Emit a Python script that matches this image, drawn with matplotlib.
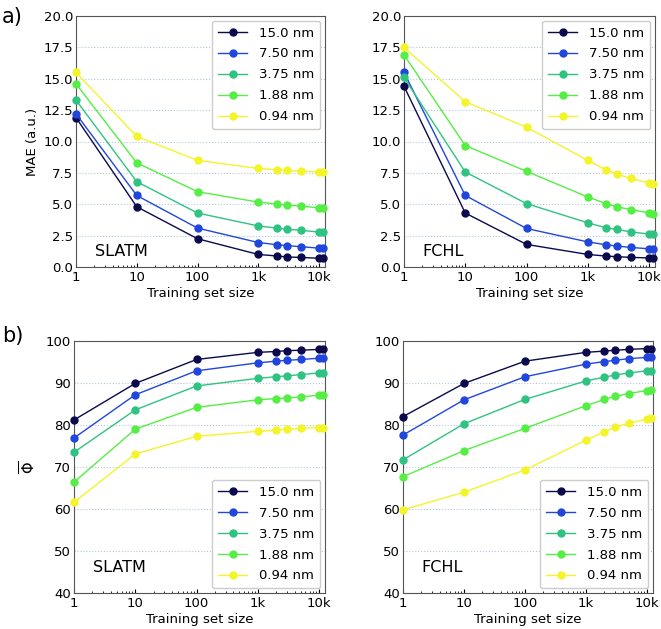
import matplotlib
matplotlib.use("Agg")
import matplotlib.pyplot as plt
import numpy as np

train_sizes = [1, 10, 100, 1000, 2000, 3000, 5000, 10000, 11500]
labels = ["15.0 nm", "7.50 nm", "3.75 nm", "1.88 nm", "0.94 nm"]
colors = ["#0b0a4c", "#2046dc", "#2ec380", "#55ee44", "#f4f42a"]
x_ticks = [1, 10, 100, 1000, 10000]
x_tick_labels = ["1", "10", "100", "1k", "10k"]

# MAE (a.u.), SLATM
mae_slatm = [
    [11.9, 4.8, 2.25, 1.0, 0.88, 0.8, 0.76, 0.7, 0.7],
    [12.2, 5.7, 3.1, 1.95, 1.78, 1.7, 1.62, 1.5, 1.5],
    [13.3, 6.8, 4.3, 3.27, 3.1, 3.0, 2.93, 2.78, 2.78],
    [14.6, 8.3, 6.0, 5.17, 5.02, 4.92, 4.85, 4.72, 4.72],
    [15.5, 10.4, 8.5, 7.85, 7.75, 7.7, 7.63, 7.57, 7.57],
]
# MAE (a.u.), FCHL
mae_fchl = [
    [14.4, 4.3, 1.8, 1.0, 0.87, 0.82, 0.77, 0.72, 0.72],
    [15.5, 5.7, 3.07, 2.0, 1.77, 1.67, 1.56, 1.45, 1.45],
    [15.1, 7.57, 5.05, 3.52, 3.12, 2.99, 2.8, 2.62, 2.6],
    [16.9, 9.68, 7.62, 5.58, 5.05, 4.79, 4.58, 4.31, 4.26],
    [17.5, 13.17, 11.14, 8.49, 7.75, 7.41, 7.06, 6.69, 6.64],
]
# mean Phi, SLATM
phi_slatm = [
    [81.2, 89.9, 95.6, 97.3, 97.5, 97.7, 97.8, 98.0, 98.0],
    [76.9, 87.2, 92.9, 94.8, 95.2, 95.4, 95.6, 95.9, 95.9],
    [73.5, 83.6, 89.3, 91.1, 91.5, 91.7, 92.0, 92.4, 92.4],
    [66.4, 79.0, 84.2, 86.0, 86.3, 86.4, 86.7, 87.1, 87.1],
    [61.6, 73.1, 77.3, 78.5, 78.8, 79.0, 79.2, 79.4, 79.4],
]
# mean Phi, FCHL
phi_fchl = [
    [82.0, 89.9, 95.2, 97.3, 97.6, 97.8, 98.0, 98.2, 98.2],
    [77.6, 86.0, 91.5, 94.5, 95.1, 95.4, 95.8, 96.1, 96.1],
    [71.7, 80.3, 86.1, 90.5, 91.4, 91.9, 92.4, 92.9, 92.9],
    [67.7, 73.9, 79.2, 84.6, 86.1, 86.8, 87.5, 88.2, 88.3],
    [59.8, 64.0, 69.3, 76.4, 78.4, 79.5, 80.4, 81.4, 81.6],
]

plt.rcParams["font.family"] = "DejaVu Sans"
fig = plt.figure(figsize=(6.61, 6.29), dpi=100)

W, H = 661, 629
boxes = {
    "tl": (76, 16, 325, 267),
    "tr": (404, 16, 655, 267),
    "bl": (74, 341, 325, 593),
    "br": (403, 341, 653, 593),
}
FS = 9.5


def make_ax(box):
    l, t, r, b = box
    return fig.add_axes([l / W, 1 - b / H, (r - l) / W, (b - t) / H])


def style(ax, ylim, yticks, fmt, legend_loc, method, text_y):
    ax.set_xscale("log")
    ax.set_xlim(1, 12500)
    ax.set_ylim(*ylim)
    ax.set_xticks(x_ticks)
    ax.set_xticklabels(x_tick_labels)
    ax.set_yticks(yticks)
    ax.set_yticklabels([fmt.format(v) for v in yticks])
    ax.tick_params(axis="x", which="both", direction="in", labelsize=FS, pad=3)
    ax.tick_params(axis="y", length=0, labelsize=FS, pad=2)
    ax.tick_params(axis="x", which="major", length=3)
    ax.tick_params(axis="x", which="minor", length=1.8)
    ax.grid(axis="y", linestyle=":", color="#b4c8dc", linewidth=0.8)
    ax.set_axisbelow(True)
    for s in ax.spines.values():
        s.set_color("#555555")
    ax.set_xlabel("Training set size", fontsize=FS, labelpad=2)
    ax.legend(loc=legend_loc, fontsize=FS, handlelength=2.2, borderpad=0.45,
              labelspacing=0.6, handletextpad=0.9, edgecolor="#cccccc",
              framealpha=1, borderaxespad=0.35)
    ax.text(0.075, text_y, method, transform=ax.transAxes, fontsize=11.5,
            ha="left", va="baseline")


panels = [
    ("tl", mae_slatm, "SLATM"),
    ("tr", mae_fchl, "FCHL"),
    ("bl", phi_slatm, "SLATM"),
    ("br", phi_fchl, "FCHL"),
]
axes = {}
for key, data, method in panels:
    ax = make_ax(boxes[key])
    for vals, lab, c in zip(data, labels, colors):
        ax.plot(train_sizes, vals, "-o", color=c, label=lab, lw=1.0, ms=5,
                clip_on=False, zorder=3)
    if key.startswith("t"):
        style(ax, (0, 20), np.arange(0, 20.1, 2.5), "{:.1f}", "upper right",
              method, 0.045)
    else:
        style(ax, (40, 100), np.arange(40, 101, 10), "{:.0f}", "lower right",
              method, 0.085)
    axes[key] = ax

axes["tl"].set_ylabel("MAE (a.u.)", fontsize=FS, labelpad=3)
axes["bl"].set_ylabel(r"$\overline{\Phi}$", fontsize=FS + 1, labelpad=5)

fig.text(2 / W, 1 - 17 / H, "a)", fontsize=15, va="center", ha="left")
fig.text(2 / W, 1 - 336 / H, "b)", fontsize=15, va="center", ha="left")

fig.savefig("out.png", dpi=100)
